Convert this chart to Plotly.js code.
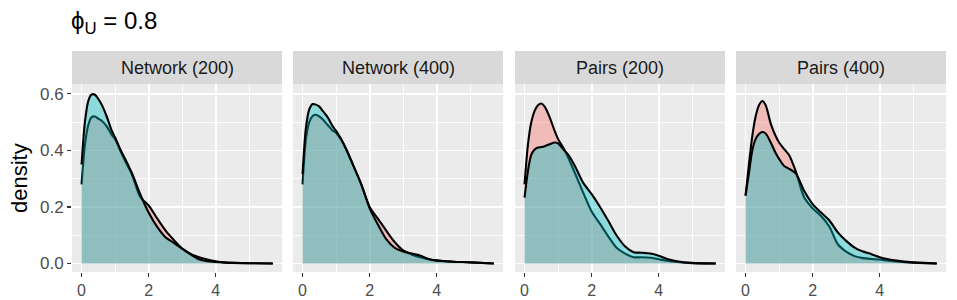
<!DOCTYPE html>
<html>
<head>
<meta charset="utf-8">
<script src="https://cdn.plot.ly/plotly-3.0.1.min.js"></script>
<style>html,body{margin:0;padding:0;background:#fff;}</style>
</head>
<body>
<div id="chart" style="width:957px;height:300px;"></div>
<script>
// Shared evaluation grid (x values of the density estimates)
const xGrid = [0, 0.1, 0.2, 0.3, 0.4, 0.5, 0.6, 0.75, 0.9, 1.0, 1.15, 1.3, 1.5, 1.75, 2.0, 2.25, 2.5, 2.75, 3.0, 3.25, 3.5, 3.75, 4.0, 4.25, 4.5, 5.0, 5.7];

const panelNames = ["Network (200)", "Network (400)", "Pairs (200)", "Pairs (400)"];

// Red group densities
const net200Red  = [0.28, 0.42, 0.49, 0.518, 0.52, 0.512, 0.505, 0.485, 0.455, 0.44, 0.40, 0.362, 0.315, 0.235, 0.205, 0.16, 0.117, 0.083, 0.053, 0.034, 0.022, 0.014, 0.008, 0.004, 0.002, 0.001, 0];
const net400Red  = [0.28, 0.44, 0.50, 0.522, 0.526, 0.52, 0.51, 0.49, 0.47, 0.462, 0.438, 0.403, 0.35, 0.28, 0.2, 0.158, 0.115, 0.075, 0.046, 0.032, 0.022, 0.015, 0.011, 0.008, 0.006, 0.004, 0];
const pair200Red = [0.28, 0.42, 0.50, 0.54, 0.56, 0.566, 0.555, 0.517, 0.468, 0.44, 0.41, 0.375, 0.32, 0.25, 0.184, 0.14, 0.095, 0.055, 0.035, 0.022, 0.022, 0.02, 0.015, 0.01, 0.006, 0.001, 0];
const pair400Red = [0.24, 0.35, 0.45, 0.52, 0.56, 0.575, 0.56, 0.495, 0.45, 0.428, 0.405, 0.383, 0.325, 0.233, 0.195, 0.168, 0.13, 0.068, 0.042, 0.026, 0.019, 0.016, 0.014, 0.01, 0.007, 0.003, 0];

// Cyan group densities
const net200Cyan  = [0.35, 0.50, 0.575, 0.598, 0.597, 0.582, 0.562, 0.52, 0.47, 0.446, 0.405, 0.37, 0.32, 0.245, 0.18, 0.13, 0.093, 0.073, 0.052, 0.032, 0.015, 0.008, 0.005, 0.003, 0.002, 0.001, 0];
const net400Cyan  = [0.316, 0.48, 0.545, 0.564, 0.562, 0.555, 0.54, 0.517, 0.485, 0.469, 0.44, 0.405, 0.35, 0.28, 0.195, 0.137, 0.085, 0.055, 0.042, 0.035, 0.028, 0.016, 0.01, 0.008, 0.006, 0.004, 0];
const pair200Cyan = [0.233, 0.327, 0.385, 0.403, 0.41, 0.412, 0.415, 0.422, 0.428, 0.425, 0.405, 0.385, 0.345, 0.285, 0.245, 0.2, 0.15, 0.098, 0.06, 0.04, 0.038, 0.035, 0.027, 0.016, 0.009, 0.002, 0];
const pair400Cyan = [0.24, 0.32, 0.40, 0.44, 0.458, 0.465, 0.46, 0.428, 0.39, 0.37, 0.345, 0.335, 0.318, 0.256, 0.21, 0.18, 0.152, 0.11, 0.08, 0.056, 0.042, 0.033, 0.022, 0.015, 0.01, 0.004, 0];

const redSeries  = [net200Red, net400Red, pair200Red, pair400Red];
const cyanSeries = [net200Cyan, net400Cyan, pair200Cyan, pair400Cyan];

const xTicks = [0, 2, 4];
const yTicks = [0, 0.2, 0.4, 0.6];
const yTickText = ["0.0", "0.2", "0.4", "0.6"];

const W = 957, H = 300;
const panelPx = [[72, 282], [293, 503], [515, 725], [736, 946]];
const plotTop = 84, plotBottom = 272, stripTop = 51;

const FONT = "'Liberation Sans', Arial, sans-serif";
const traces = [];
const layout = {
  width: W, height: H,
  margin: {l: 0, r: 0, t: 0, b: 0},
  paper_bgcolor: "#ffffff",
  plot_bgcolor: "#EBEBEB",
  showlegend: false,
  font: {family: FONT},
  title: {
    text: "ϕ<sub>U</sub> = 0.8",
    x: 71 / W, xanchor: "left", xref: "container",
    y: 1 - 21 / H, yanchor: "middle", yref: "container",
    font: {size: 24, color: "#000000", family: FONT}
  },
  shapes: [],
  annotations: []
};

for (let i = 0; i < 4; i++) {
  const sfx = i === 0 ? "" : String(i + 1);
  const xa = "x" + sfx, ya = "y" + sfx;
  traces.push({
    type: "scatter", mode: "lines", x: xGrid, y: redSeries[i],
    xaxis: xa, yaxis: ya, fill: "tozeroy",
    fillcolor: "rgba(248,118,109,0.4)",
    line: {color: "#000000", width: 2.1, shape: "spline", smoothing: 0.8},
    hoverinfo: "skip"
  });
  traces.push({
    type: "scatter", mode: "lines", x: xGrid, y: cyanSeries[i],
    xaxis: xa, yaxis: ya, fill: "tozeroy",
    fillcolor: "rgba(0,191,196,0.4)",
    line: {color: "#000000", width: 2.1, shape: "spline", smoothing: 0.8},
    hoverinfo: "skip"
  });
  const dom = [panelPx[i][0] / W, panelPx[i][1] / W];
  layout["xaxis" + sfx] = {
    domain: dom, anchor: ya,
    range: [-0.285, 5.975],
    tickmode: "array", tickvals: xTicks, ticktext: xTicks.map(String),
    ticks: "outside", ticklen: 4, tickwidth: 1.2, tickcolor: "#333333",
    tickfont: {size: 16, color: "#4D4D4D", family: FONT},
    showgrid: true, gridcolor: "#FFFFFF", gridwidth: 1.8,
    minor: {tickmode: "array", tickvals: [1, 3, 5], showgrid: true, gridcolor: "#FFFFFF", gridwidth: 0.9, ticks: ""},
    zeroline: false, showline: false, fixedrange: true
  };
  layout["yaxis" + sfx] = {
    domain: [(H - plotBottom) / H, (H - plotTop) / H], anchor: xa,
    range: [-0.0302, 0.635],
    tickmode: "array", tickvals: yTicks, ticktext: yTickText,
    ticks: i === 0 ? "outside" : "", ticklen: 4, tickwidth: 1.2, tickcolor: "#333333",
    showticklabels: i === 0,
    tickfont: {size: 17, color: "#4D4D4D", family: FONT},
    showgrid: true, gridcolor: "#FFFFFF", gridwidth: 1.8,
    minor: {tickmode: "array", tickvals: [0.1, 0.3, 0.5], showgrid: true, gridcolor: "#FFFFFF", gridwidth: 0.9, ticks: ""},
    zeroline: false, showline: false, fixedrange: true
  };
  layout.shapes.push({
    type: "rect", xref: "paper", yref: "paper",
    x0: dom[0], x1: dom[1],
    y0: (H - plotTop) / H, y1: (H - stripTop) / H,
    fillcolor: "#D9D9D9", line: {width: 0}, layer: "below"
  });
  layout.annotations.push({
    xref: "paper", yref: "paper",
    x: (dom[0] + dom[1]) / 2, y: (H - (plotTop + stripTop) / 2) / H,
    xanchor: "center", yanchor: "middle",
    text: panelNames[i], showarrow: false,
    font: {size: 18, color: "#1A1A1A", family: FONT}
  });
}

layout.annotations.push({
  xref: "paper", yref: "paper",
  x: 20 / W, y: (H - (plotTop + plotBottom) / 2) / H,
  xanchor: "center", yanchor: "middle",
  text: "density", textangle: -90, showarrow: false,
  font: {size: 22, color: "#000000", family: FONT}
});

Plotly.newPlot("chart", traces, layout, {staticPlot: true, displayModeBar: false});
</script>
</body>
</html>
